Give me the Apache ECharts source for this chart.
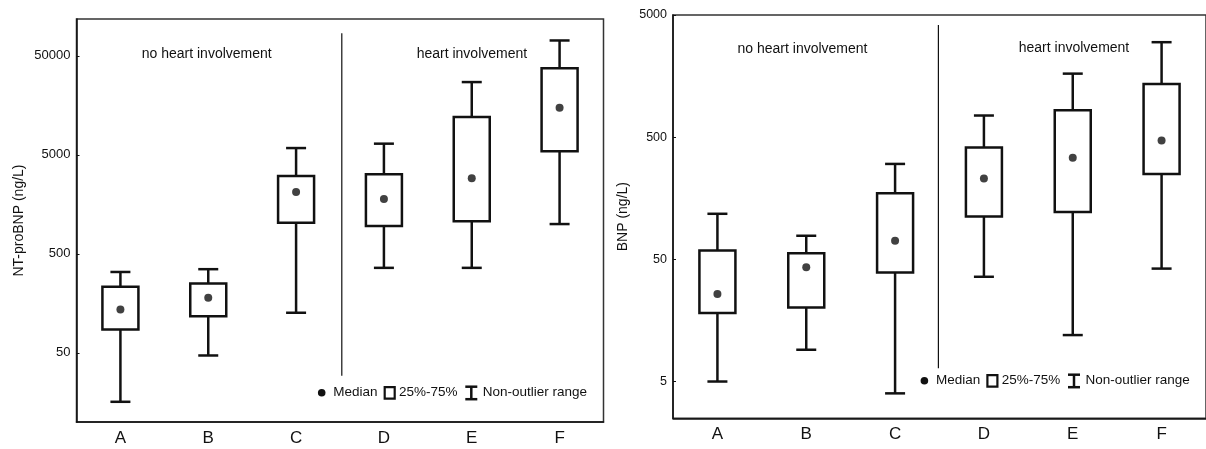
<!DOCTYPE html>
<html>
<head>
<meta charset="utf-8">
<script src="https://cdn.jsdelivr.net/npm/echarts@6/dist/echarts.min.js"></script>
<style>
  html, body { margin: 0; padding: 0; background: #fff; }
  #chart { width: 1206px; height: 449px; }
</style>
</head>
<body>
<div id="chart"></div>
<script>
// categories shared by both panels
const categories = ['A', 'B', 'C', 'D', 'E', 'F']

// NT-proBNP (ng/L): non-outlier min, 25%, median, 75%, non-outlier max
const ntMin = [16, 47, 127, 361, 361, 1000]
const ntQ1 = [86, 117, 1030, 957, 1067, 5430]
const ntMedian = [137, 180, 2110, 1790, 2900, 15000]
const ntQ3 = [232, 251, 3060, 3180, 12050, 37600]
const ntMax = [328, 350, 5860, 6490, 27200, 71600]
const ntTicks = [50, 500, 5000, 50000]

// BNP (ng/L)
const bnpMin = [5, 9.1, 4.0, 36, 12, 42]
const bnpQ1 = [18.2, 20.2, 39, 112, 122, 250]
const bnpMedian = [26, 43, 71, 229, 340, 470]
const bnpQ3 = [59, 56, 174, 411, 832, 1364]
const bnpMax = [118, 78, 302, 752, 1656, 2995]
const bnpTicks = [5, 50, 500, 5000]

const FONT = 'Liberation Sans, Arial, sans-serif'
const INK = '#111'
const LW = 2.5

function boxRows(mins, q1s, q3s, maxs) {
  return categories.map((c, i) => [i, mins[i], q1s[i], q3s[i], maxs[i]])
}

function renderWhisker(params, api) {
  const x = api.value(0)
  const lo = api.coord([x, api.value(1)])
  const q1 = api.coord([x, api.value(2)])
  const q3 = api.coord([x, api.value(3)])
  const hi = api.coord([x, api.value(4)])
  const cap = 10
  const style = { stroke: INK, lineWidth: LW }
  return {
    type: 'group',
    children: [
      { type: 'line', shape: { x1: hi[0], y1: hi[1], x2: q3[0], y2: q3[1] }, style },
      { type: 'line', shape: { x1: q1[0], y1: q1[1], x2: lo[0], y2: lo[1] }, style },
      { type: 'line', shape: { x1: hi[0] - cap, y1: hi[1], x2: hi[0] + cap, y2: hi[1] }, style },
      { type: 'line', shape: { x1: lo[0] - cap, y1: lo[1], x2: lo[0] + cap, y2: lo[1] }, style }
    ]
  }
}

function renderBox(params, api) {
  const x = api.value(0)
  const q1 = api.coord([x, api.value(2)])
  const q3 = api.coord([x, api.value(3)])
  const half = 18
  return {
    type: 'rect',
    shape: { x: q3[0] - half, y: q3[1], width: half * 2, height: q1[1] - q3[1] },
    style: { fill: '#fff', stroke: INK, lineWidth: LW }
  }
}

function panelSeries(idx, mins, q1s, medians, q3s, maxs) {
  const rows = boxRows(mins, q1s, q3s, maxs)
  return [
    {
      name: 'Non-outlier range',
      type: 'custom',
      xAxisIndex: idx,
      yAxisIndex: idx,
      renderItem: renderWhisker,
      encode: { x: 0, y: [1, 2, 3, 4] },
      data: rows,
      z: 2
    },
    {
      name: '25%-75%',
      type: 'custom',
      xAxisIndex: idx,
      yAxisIndex: idx,
      renderItem: renderBox,
      encode: { x: 0, y: [1, 2, 3, 4] },
      data: rows,
      z: 3
    },
    {
      name: 'Median',
      type: 'scatter',
      xAxisIndex: idx,
      yAxisIndex: idx,
      symbol: 'circle',
      symbolSize: 8,
      itemStyle: { color: INK },
      data: medians.map((v, i) => [i, v]),
      z: 4
    }
  ]
}

function xAxisOf(idx) {
  return {
    type: 'category',
    gridIndex: idx,
    data: categories,
    boundaryGap: true,
    axisLine: { lineStyle: { color: INK, width: 1.5 } },
    axisTick: { alignWithLabel: true, inside: true, length: 3, lineStyle: { color: INK } },
    axisLabel: { fontSize: 17, color: INK, fontFamily: FONT, margin: 8 },
    splitLine: { show: false }
  }
}

function yAxisOf(idx, min, max, ticks, name, gap, labelSize) {
  return {
    type: 'log',
    logBase: 10,
    gridIndex: idx,
    min: min,
    max: max,
    name: name,
    nameLocation: 'middle',
    nameGap: gap,
    nameTextStyle: { fontSize: 14, color: INK, fontFamily: FONT },
    axisLine: { show: true, lineStyle: { color: INK, width: 1.5 } },
    axisTick: { show: true, inside: true, length: 3, customValues: ticks, lineStyle: { color: INK } },
    axisLabel: {
      customValues: ticks,
      fontSize: labelSize,
      color: INK,
      fontFamily: FONT,
      margin: 6,
      formatter: v => String(Math.round(v))
    },
    minorTick: { show: false },
    splitLine: { show: false }
  }
}

// legend drawn as a small group: dot, hollow box, whisker glyph
function legendGroup(x, y) {
  const text = (tx, s) => ({
    type: 'text', x: tx, y: 0,
    style: { text: s, fill: INK, font: '13.5px ' + FONT, textVerticalAlign: 'middle', textAlign: 'left' }
  })
  const stroke = { stroke: INK, lineWidth: LW, fill: null }
  return {
    type: 'group', x: x, y: y, silent: true,
    children: [
      { type: 'circle', shape: { cx: 0, cy: 0, r: 3.8 }, style: { fill: INK } },
      text(11.6, 'Median'),
      { type: 'rect', shape: { x: 63, y: -5.5, width: 10, height: 11.5 }, style: { fill: '#fff', stroke: INK, lineWidth: 2.2 } },
      text(77.3, '25%-75%'),
      { type: 'line', shape: { x1: 143.6, y1: -6, x2: 155.6, y2: -6 }, style: stroke },
      { type: 'line', shape: { x1: 149.6, y1: -6, x2: 149.6, y2: 6.5 }, style: stroke },
      { type: 'line', shape: { x1: 143.6, y1: 6.5, x2: 155.6, y2: 6.5 }, style: stroke },
      text(161, 'Non-outlier range')
    ]
  }
}

function note(x, y, s) {
  return {
    type: 'text', x: x, y: y, silent: true,
    style: { text: s, fill: INK, font: '14px ' + FONT, textAlign: 'center', textVerticalAlign: 'middle' }
  }
}

function divider(x, y1, y2) {
  return {
    type: 'line', silent: true,
    shape: { x1: x, y1: y1, x2: x, y2: y2 },
    style: { stroke: INK, lineWidth: 1.2 }
  }
}

const chart = echarts.init(document.getElementById('chart'), null, { renderer: 'canvas' })

chart.setOption({
  animation: false,
  backgroundColor: '#fff',
  textStyle: { fontFamily: FONT },
  grid: [
    { left: 76.5, top: 19, width: 527, height: 403, show: true, borderColor: '#333', borderWidth: 1.5 },
    { left: 673, top: 15, width: 533, height: 403.3, show: true, borderColor: '#333', borderWidth: 1.5 }
  ],
  xAxis: [xAxisOf(0), xAxisOf(1)],
  yAxis: [
    yAxisOf(0, 10, 118000, ntTicks, 'NT-proBNP (ng/L)', 50, 13),
    yAxisOf(1, 2.5, 5000, bnpTicks, 'BNP (ng/L)', 43, 12.5)
  ],
  series: [
    ...panelSeries(0, ntMin, ntQ1, ntMedian, ntQ3, ntMax),
    ...panelSeries(1, bnpMin, bnpQ1, bnpMedian, bnpQ3, bnpMax)
  ],
  graphic: [
    divider(341.8, 33.3, 375.7),
    divider(938.4, 25, 368.3),
    note(206.7, 54.5, 'no heart involvement'),
    note(471.9, 54, 'heart involvement'),
    note(802.5, 49.3, 'no heart involvement'),
    note(1074, 48.3, 'heart involvement'),
    legendGroup(321.7, 392.7),
    legendGroup(924.4, 380.7)
  ]
})
</script>
</body>
</html>
